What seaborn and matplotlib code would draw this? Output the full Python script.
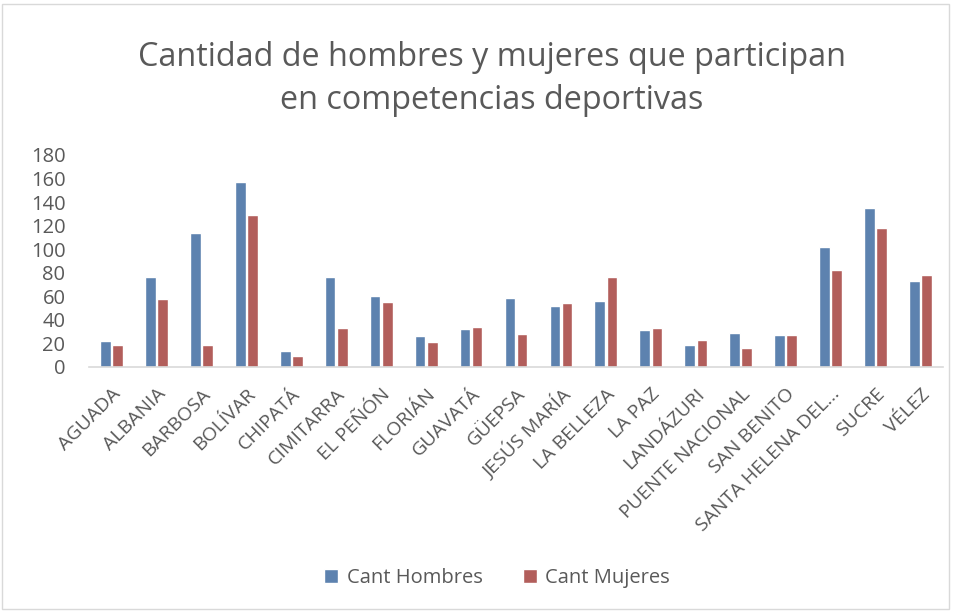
import matplotlib
matplotlib.use("Agg")
import matplotlib.pyplot as plt
import pandas as pd
import seaborn as sns
from matplotlib.patches import Rectangle

municipios = [
    "AGUADA", "ALBANIA", "BARBOSA", "BOLÍVAR", "CHIPATÁ", "CIMITARRA",
    "EL PEÑÓN", "FLORIÁN", "GUAVATÁ", "GÜEPSA", "JESÚS MARÍA", "LA BELLEZA",
    "LA PAZ", "LANDÁZURI", "PUENTE NACIONAL", "SAN BENITO",
    "SANTA HELENA DEL...", "SUCRE", "VÉLEZ",
]
hombres = [22, 76, 114, 157, 14, 76, 60, 26, 32, 59, 52, 56, 31, 19, 29, 27, 102, 135, 73]
mujeres = [19, 58, 19, 129, 9, 33, 55, 21, 34, 28, 54, 76, 33, 23, 16, 27, 82, 118, 78]

df = pd.DataFrame({"municipio": municipios, "Cant Hombres": hombres, "Cant Mujeres": mujeres})
long = df.melt(id_vars="municipio", var_name="serie", value_name="cantidad")

sns.set_style("white")
plt.rcParams["font.family"] = ["Open Sans", "DejaVu Sans"]
gray = "#595959"

fig = plt.figure(figsize=(9.57, 6.11), dpi=100)
ax = fig.add_axes([89 / 957, 1 - 367 / 611, 854 / 957, 212 / 611])

sns.barplot(
    data=long, x="municipio", y="cantidad", hue="serie",
    palette=["#4F81BD", "#C0504D"], width=0.54, gap=0.12,
    order=municipios, ax=ax, legend=True,
)

ax.set_ylim(0, 180)
ax.set_yticks(range(0, 181, 20))
ax.set_xlim(-0.5, len(municipios) - 0.5)
ax.set_xlabel("")
ax.set_ylabel("")
ax.tick_params(axis="y", labelsize=14.5, colors=gray, length=0, pad=17)
ax.tick_params(axis="x", labelsize=14, colors=gray, length=0, pad=13)
plt.setp(ax.get_xticklabels(), rotation=45, ha="right", rotation_mode="anchor")
for s in ["top", "right", "left"]:
    ax.spines[s].set_visible(False)
ax.spines["bottom"].set_color("#D9D9D9")
ax.spines["bottom"].set_linewidth(1.2)

ax.legend(
    loc="center", bbox_to_anchor=(497 / 957, 1 - 578 / 611), bbox_transform=fig.transFigure,
    ncol=2, frameon=False, fontsize=14.5, handlelength=0.7, handleheight=0.7,
    columnspacing=2.0, handletextpad=0.4, labelcolor=gray,
)

fig.text(492 / 957, 1 - 79 / 611,
         "Cantidad de hombres y mujeres que participan\nen competencias deportivas",
         ha="center", va="center", fontsize=23.3, color=gray, linespacing=1.4)

fig.patches.append(Rectangle((0.002, 0.004), 0.99, 0.99, transform=fig.transFigure,
                             fill=False, edgecolor="#D9D9D9", linewidth=1))

fig.savefig("out.png", dpi=100)
